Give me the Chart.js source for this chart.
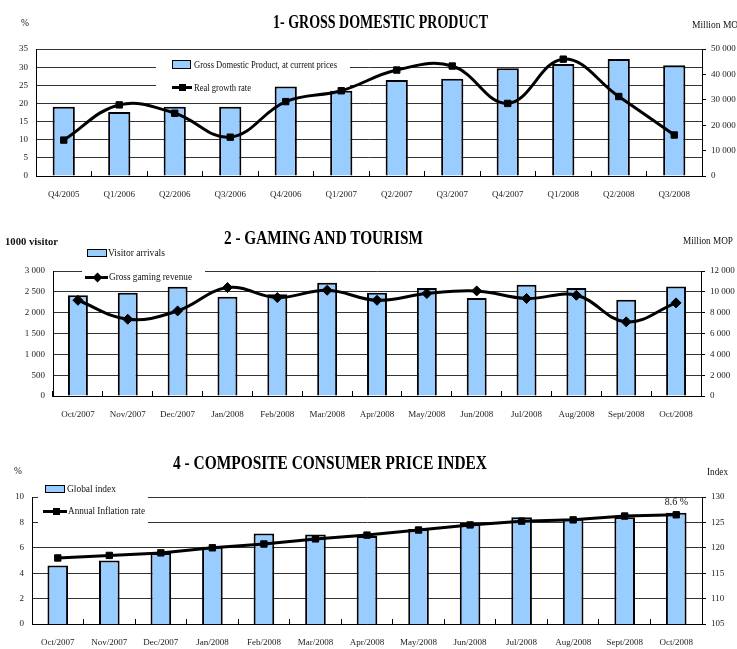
<!DOCTYPE html>
<html>
<head>
<meta charset="utf-8">
<script src="https://cdn.jsdelivr.net/npm/chart.js@4.4.1/dist/chart.umd.min.js"></script>
<style>
    html, body { margin: 0; padding: 0; background: #fff; }
    body { width: 737px; height: 649px; position: relative; overflow: hidden; font-family: "Liberation Serif", serif; color: #111; }
    canvas { position: absolute; left: 0; }
    .txt { position: absolute; white-space: nowrap; transform-origin: 0 50%; line-height: 1; z-index: 2; }
    .title { font-weight: bold; font-size: 18px; color: #000; }
    .unit { font-size: 9.5px; }
    .leg { font-size: 10px; }
    .sw-bar { position: absolute; background: #99ccff; border: 1px solid #000; box-sizing: border-box; z-index: 2; }
    .sw-line { position: absolute; height: 3px; background: #000; z-index: 2; }
    .sw-mark { position: absolute; width: 7px; height: 7px; background: #000; z-index: 3; }
</style>
</head>
<body>

<canvas id="chart-gdp" width="737" height="180" style="top:30px"></canvas>
<canvas id="chart-gaming" width="737" height="208" style="top:222px"></canvas>
<canvas id="chart-cpi" width="737" height="209" style="top:440px"></canvas>

<!-- chart 1 texts -->
<div class="txt title" data-w="215" style="left:273px; top:12.5px">1- GROSS DOMESTIC PRODUCT</div>
<div class="txt unit" style="left:21px; top:19px">%</div>
<div class="txt unit" style="left:692px; top:21px">Million MOP</div>
<div class="sw-bar" style="left:172px; top:60px; width:19px; height:9px"></div>
<div class="txt leg" id="leg-gdp-bar" data-w="143" style="left:194px; top:60px"></div>
<div class="sw-line" style="left:172px; top:86px; width:20px"></div>
<div class="sw-mark" style="left:178.5px; top:84px"></div>
<div class="txt leg" id="leg-gdp-line" data-w="57" style="left:194px; top:83px"></div>

<!-- chart 2 texts -->
<div class="txt title" data-w="199" style="left:224px; top:229px">2 - GAMING AND TOURISM</div>
<div class="txt unit" data-w="53" style="left:5px; top:237px; font-weight:bold; font-size:10px">1000 visitor</div>
<div class="txt unit" data-w="50" style="left:683px; top:237px">Million MOP</div>
<div class="sw-bar" style="left:87px; top:249px; width:20px; height:8px"></div>
<div class="txt leg" id="leg-tour-bar" data-w="57" style="left:108px; top:248px"></div>
<div class="sw-line" style="left:85px; top:275.5px; width:23px"></div>
<div class="sw-mark" style="left:93.5px; top:273.5px; transform:rotate(45deg)"></div>
<div class="txt leg" id="leg-tour-line" data-w="83" style="left:109px; top:272px"></div>

<!-- chart 3 texts -->
<div class="txt title" data-w="314" style="left:173px; top:454px">4 - COMPOSITE CONSUMER PRICE INDEX</div>
<div class="txt unit" style="left:14px; top:467px">%</div>
<div class="txt unit" data-w="21" style="left:707px; top:468px">Index</div>
<div class="sw-bar" style="left:45px; top:485px; width:20px; height:8px"></div>
<div class="txt leg" id="leg-cpi-bar" data-w="49" style="left:67px; top:484px"></div>
<div class="sw-line" style="left:43px; top:510px; width:24px"></div>
<div class="sw-mark" style="left:52.5px; top:508px"></div>
<div class="txt leg" id="leg-cpi-line" data-w="77" style="left:68px; top:506px"></div>
<div class="txt leg" id="last-label" style="left:668px; top:496px">8.6 %</div>

<script>
"use strict";

// 1 - GDP
const gdpQuarters = ['Q4/2005', 'Q1/2006', 'Q2/2006', 'Q3/2006', 'Q4/2006', 'Q1/2007',
    'Q2/2007', 'Q3/2007', 'Q4/2007', 'Q1/2008', 'Q2/2008', 'Q3/2008'];
const gdpCurrentPrices = [27300, 25200, 27300, 27300, 35200, 33600, 37800, 38300, 42400, 44100, 46100, 43600];
const gdpRealGrowth = [9.9, 19.6, 17.3, 10.7, 20.5, 23.5, 29.2, 30.3, 20.0, 32.2, 21.9, 11.3];

// 2 - gaming and tourism
const tourMonths = ['Oct/2007', 'Nov/2007', 'Dec/2007', 'Jan/2008', 'Feb/2008', 'Mar/2008', 'Apr/2008',
    'May/2008', 'Jun/2008', 'Jul/2008', 'Aug/2008', 'Sept/2008', 'Oct/2008'];
const visitorArrivals = [2420, 2480, 2620, 2380, 2440, 2720, 2480, 2590, 2350, 2670, 2590, 2310, 2630];
const gamingRevenue = [9190, 7370, 8170, 10410, 9450, 10150, 9190, 9840, 10090, 9360, 9670, 7120, 8940];

// 4 - CPI
const cpiMonths = ['Oct/2007', 'Nov/2007', 'Dec/2007', 'Jan/2008', 'Feb/2008', 'Mar/2008', 'Apr/2008',
    'May/2008', 'Jun/2008', 'Jul/2008', 'Aug/2008', 'Sept/2008', 'Oct/2008'];
const cpiGlobalIndex = [116.5, 117.5, 119.0, 120.2, 122.8, 122.6, 122.3, 123.7, 124.9, 126.0, 125.7, 126.0, 126.9];
const cpiInflationRate = [5.2, 5.4, 5.6, 6.0, 6.3, 6.7, 7.0, 7.4, 7.8, 8.1, 8.2, 8.5, 8.6];

const legendText = {
    'leg-gdp-bar': 'Gross Domestic Product, at current prices',
    'leg-gdp-line': 'Real growth rate',
    'leg-tour-bar': 'Visitor arrivals',
    'leg-tour-line': 'Gross gaming revenue',
    'leg-cpi-bar': 'Global index',
    'leg-cpi-line': 'Annual Inflation rate'
};
for (const id in legendText) {
    document.getElementById(id).textContent = legendText[id];
}
document.querySelectorAll('.txt[data-w]').forEach(el => {
    const w = el.getBoundingClientRect().width;
    el.style.transform = 'scaleX(' + (Number(el.dataset.w) / w) + ')';
});

const tickFont = { family: 'Liberation Serif', size: 9 };
const spaced = v => String(v).replace(/\B(?=(\d{3})+(?!\d))/g, ' ');

// white box under the legend, drawn over the grid but under the series
const legendMask = {
    id: 'legendMask',
    beforeDatasetsDraw(chart, args, opts) {
        const ctx = chart.ctx;
        ctx.save();
        ctx.fillStyle = '#fff';
        ctx.fillRect(opts.x, opts.y, opts.w, opts.h);
        ctx.restore();
    }
};

function comboChart(id, cfg) {
    return new Chart(document.getElementById(id), {
        type: 'bar',
        data: {
            labels: cfg.labels,
            datasets: [
                {
                    type: 'line',
                    label: cfg.lineLabel,
                    data: cfg.lineData,
                    yAxisID: cfg.lineAxis,
                    borderColor: '#000',
                    backgroundColor: '#000',
                    borderWidth: 3,
                    pointStyle: cfg.pointStyle,
                    pointRadius: cfg.pointRadius,
                    pointBorderWidth: 1,
                    tension: cfg.tension,
                    order: 1
                },
                {
                    type: 'bar',
                    label: cfg.barLabel,
                    data: cfg.barData,
                    yAxisID: cfg.barAxis,
                    backgroundColor: '#99ccff',
                    borderColor: '#000',
                    borderWidth: 2,
                    barPercentage: 0.4,
                    categoryPercentage: 1,
                    order: 2
                }
            ]
        },
        options: {
            responsive: false,
            animation: false,
            layout: { padding: { top: cfg.top, left: 0, right: 0, bottom: 0 } },
            plugins: {
                legend: { display: false },
                tooltip: { enabled: false },
                legendMask: cfg.mask
            },
            scales: {
                x: {
                    offset: true,
                    border: { color: '#000', width: 1 },
                    grid: { offset: true, drawOnChartArea: false, tickLength: -5, color: '#000' },
                    ticks: { font: tickFont, color: '#222', padding: 18, maxRotation: 0, autoSkip: false },
                    afterFit: s => { s.height = cfg.xHeight; }
                },
                y: {
                    position: 'left',
                    min: cfg.left.min,
                    max: cfg.left.max,
                    border: { color: '#000', width: 1 },
                    grid: { color: '#333', drawTicks: false },
                    ticks: { stepSize: cfg.left.step, font: tickFont, color: '#222', padding: 8, callback: spaced },
                    afterFit: s => { s.width = cfg.leftWidth; }
                },
                y1: {
                    position: 'right',
                    min: cfg.right.min,
                    max: cfg.right.max,
                    border: { color: '#000', width: 1 },
                    grid: { drawOnChartArea: false, tickLength: 4, color: '#000' },
                    ticks: { stepSize: cfg.right.step, font: tickFont, color: '#222', padding: 5, callback: spaced },
                    afterFit: s => { s.width = cfg.rightWidth; }
                }
            }
        },
        plugins: [legendMask].concat(cfg.extra || [])
    });
}

comboChart('chart-gdp', {
    labels: gdpQuarters,
    barLabel: legendText['leg-gdp-bar'],
    barData: gdpCurrentPrices,
    barAxis: 'y1',
    lineLabel: legendText['leg-gdp-line'],
    lineData: gdpRealGrowth,
    lineAxis: 'y',
    pointStyle: 'rect',
    pointRadius: 4.5,
    tension: 0.4,
    top: 19, xHeight: 34, leftWidth: 36, rightWidth: 35,
    left: { min: 0, max: 35, step: 5 },
    right: { min: 0, max: 50000, step: 10000 },
    mask: { x: 156, y: 27, w: 194, h: 39 }
});

comboChart('chart-gaming', {
    labels: tourMonths,
    barLabel: legendText['leg-tour-bar'],
    barData: visitorArrivals,
    barAxis: 'y',
    lineLabel: legendText['leg-tour-line'],
    lineData: gamingRevenue,
    lineAxis: 'y1',
    pointStyle: 'rectRot',
    pointRadius: 5,
    tension: 0.4,
    top: 49, xHeight: 34, leftWidth: 53, rightWidth: 36,
    left: { min: 0, max: 3000, step: 500 },
    right: { min: 0, max: 12000, step: 2000 },
    mask: { x: 82, y: 21, w: 123, h: 42 }
});

// keep the "8.6 %" note over the last inflation point
const lastPointLabel = {
    id: 'lastPointLabel',
    afterDraw(chart) {
        const pts = chart.getDatasetMeta(0).data;
        const p = pts[pts.length - 1];
        const el = document.getElementById('last-label');
        el.style.left = (p.x - el.offsetWidth / 2) + 'px';
        el.style.top = (440 + p.y - 18) + 'px';
    }
};

comboChart('chart-cpi', {
    labels: cpiMonths,
    barLabel: legendText['leg-cpi-bar'],
    barData: cpiGlobalIndex,
    barAxis: 'y1',
    lineLabel: legendText['leg-cpi-line'],
    lineData: cpiInflationRate,
    lineAxis: 'y',
    pointStyle: 'rect',
    pointRadius: 4.5,
    tension: 0,
    top: 57, xHeight: 25, leftWidth: 32, rightWidth: 35,
    left: { min: 0, max: 10, step: 2 },
    right: { min: 105, max: 130, step: 5 },
    mask: { x: 38, y: 40, w: 110, h: 48 },
    extra: [lastPointLabel]
});
</script>
</body>
</html>
